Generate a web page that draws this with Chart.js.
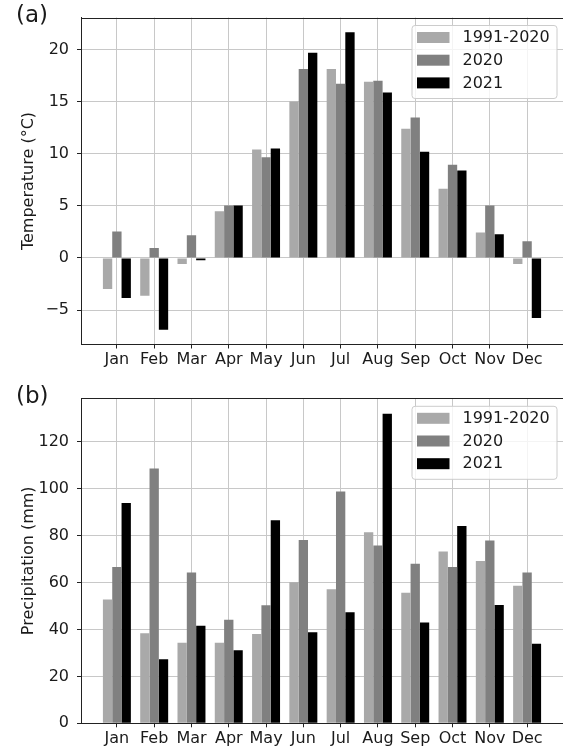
<!DOCTYPE html>
<html>
<head>
<meta charset="utf-8">
<script src="https://cdn.jsdelivr.net/npm/chart.js@4.4.1/dist/chart.umd.min.js"></script>
<style>
  html, body { margin: 0; padding: 0; background: #fff; }
  #wrap { position: relative; width: 563px; height: 748px; overflow: hidden; }
  canvas { position: absolute; left: 0; }
  #temp-chart { top: 0; }
  #precip-chart { top: 374px; }
</style>
</head>
<body>
<div id="wrap">
  <canvas id="temp-chart" width="563" height="374"></canvas>
  <canvas id="precip-chart" width="563" height="374"></canvas>
</div>
<script>
// Monthly climate: normals vs. 2020 and 2021
const MONTHS = ["Jan", "Feb", "Mar", "Apr", "May", "Jun", "Jul", "Aug", "Sep", "Oct", "Nov", "Dec"]
const SERIES = ["1991-2020", "2020", "2021"]
const COLORS = ["#a9a9a9", "#808080", "#000000"]

// (a) mean temperature, °C
const TEMP_NORMAL = [-2.98, -3.62, -0.58, 4.48, 10.4, 15.01, 18.11, 16.9, 12.38, 6.62, 2.43, -0.58]
const TEMP_2020   = [2.52, 0.96, 2.17, 5.02, 9.66, 18.11, 16.7, 16.99, 13.47, 8.93, 5.02, 1.6]
const TEMP_2021   = [-3.84, -6.88, -0.22, 5.02, 10.49, 19.68, 21.63, 15.87, 10.18, 8.38, 2.27, -5.76]
const TEMP_TICKS  = [-5, 0, 5, 10, 15, 20]

// (b) precipitation, mm
const PRECIP_NORMAL = [52.8, 38.4, 34.4, 34.4, 38.1, 60.1, 57.2, 81.5, 55.7, 73.3, 69.2, 58.7]
const PRECIP_2020   = [66.7, 108.7, 64.3, 44.2, 50.3, 78.2, 98.9, 75.8, 68.0, 66.7, 78.0, 64.3]
const PRECIP_2021   = [93.9, 27.3, 41.6, 31.1, 86.6, 38.8, 47.4, 132.0, 43.0, 84.1, 50.4, 33.9]
const PRECIP_TICKS  = [0, 20, 40, 60, 80, 100, 120]

const FONT   = "'DejaVu Sans', sans-serif"
const INK    = "#1a1a1a"
const SPINE  = "#222222"
const GRID   = "#c8c8c8"

// top spine, legend box, panel letter
const panelDecor = {
  id: "panelDecor",
  afterDatasetsDraw(chart, args, opts) {
    const { ctx, chartArea: a } = chart
    ctx.save()

    ctx.strokeStyle = SPINE
    ctx.lineWidth = 1
    ctx.beginPath()
    ctx.moveTo(a.left, Math.round(a.top) + 0.5)
    ctx.lineTo(a.right, Math.round(a.top) + 0.5)
    ctx.stroke()

    // legend
    const bw = 145, bh = 73
    const bx = a.right - 6.5 - bw
    const by = a.top + 7.5
    ctx.fillStyle = "rgba(255,255,255,0.8)"
    ctx.strokeStyle = "#cccccc"
    ctx.beginPath()
    ctx.roundRect(bx + 0.5, by + 0.5, bw, bh, 3)
    ctx.fill()
    ctx.stroke()

    ctx.font = "16px " + FONT
    ctx.textBaseline = "middle"
    ctx.textAlign = "left"
    chart.data.datasets.forEach((ds, i) => {
      const cy = by + 12.5 + i * 22.7
      ctx.fillStyle = ds.backgroundColor
      ctx.fillRect(bx + 5.5, cy - 5.5, 32.5, 11)
      ctx.fillStyle = INK
      ctx.fillText(ds.label, bx + 51, cy + 0.5)
    })

    ctx.font = "23px " + FONT
    ctx.fillStyle = INK
    ctx.fillText(opts.label, 16, a.top - 1)
    ctx.restore()
  }
}

const minusFmt = v => (v < 0 ? "\u2212" + Math.abs(v) : String(v))

function buildChart(canvasId, label, yTitle, values, yTicks, yMin, yMax, padTop, xHeight) {
  const datasets = values.map((vals, k) => ({
    label: SERIES[k],
    data: vals.map((v, i) => ({ x: i, y: v })),
    backgroundColor: COLORS[k],
    borderWidth: 0,
    categoryPercentage: 0.75,
    barPercentage: 1.0
  }))

  return new Chart(document.getElementById(canvasId), {
    type: "bar",
    data: { datasets },
    plugins: [panelDecor],
    options: {
      responsive: false,
      animation: false,
      devicePixelRatio: 1,
      layout: { padding: { top: padTop, left: 0, right: 0, bottom: 0 } },
      plugins: {
        legend: { display: false },
        tooltip: { enabled: false },
        panelDecor: { label }
      },
      scales: {
        x: {
          type: "linear",
          offset: false,
          min: -0.9625,
          max: 11.9625,
          afterBuildTicks: s => { s.ticks = MONTHS.map((m, i) => ({ value: i })) },
          afterFit: s => { s.height = xHeight; s.paddingLeft = 0; s.paddingRight = 0 },
          ticks: {
            autoSkip: false,
            maxRotation: 0,
            padding: 2,
            color: INK,
            font: { family: FONT, size: 16 },
            callback: v => MONTHS[v]
          },
          grid: { offset: false, color: GRID, tickColor: SPINE, tickLength: 4, lineWidth: 1 },
          border: { color: SPINE, width: 1 }
        },
        y: {
          min: yMin,
          max: yMax,
          afterBuildTicks: s => { s.ticks = yTicks.map(v => ({ value: v })) },
          afterFit: s => { s.width = 81; s.paddingTop = 0; s.paddingBottom = 0 },
          ticks: {
            padding: 8,
            color: INK,
            font: { family: FONT, size: 16 },
            callback: minusFmt
          },
          grid: { color: GRID, tickColor: SPINE, tickLength: 4, lineWidth: 1 },
          border: { color: SPINE, width: 1 },
          title: {
            display: true,
            text: yTitle,
            color: INK,
            font: { family: FONT, size: 16 },
            padding: { top: 19, bottom: 0 }
          }
        }
      }
    }
  })
}

// axis limits: 5% margin around the data, bars start from zero for precipitation
const tAll = TEMP_NORMAL.concat(TEMP_2020, TEMP_2021)
const tLo = Math.min(...tAll), tHi = Math.max(...tAll)
const tPad = (tHi - tLo) * 0.05
const pHi = Math.max(...PRECIP_NORMAL, ...PRECIP_2020, ...PRECIP_2021) * 1.05

buildChart("temp-chart", "(a)", "Temperature (°C)",
  [TEMP_NORMAL, TEMP_2020, TEMP_2021], TEMP_TICKS, tLo - tPad, tHi + tPad, 17.5, 29.5)

buildChart("precip-chart", "(b)", "Precipitation (mm)",
  [PRECIP_NORMAL, PRECIP_2020, PRECIP_2021], PRECIP_TICKS, 0, pHi, 24.3, 24.7)
</script>
</body>
</html>
